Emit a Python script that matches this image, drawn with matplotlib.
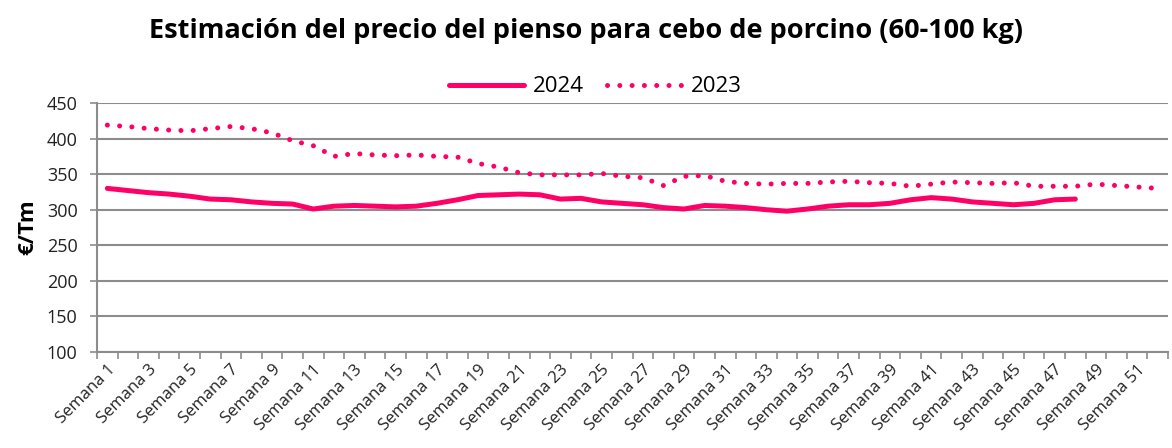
import matplotlib.pyplot as plt
import numpy as np

plt.rcParams['font.family'] = ['Open Sans', 'DejaVu Sans']

# Datos semanales (€/Tm)
semanas = [f'Semana {i}' for i in range(1, 53)]
precio_2024 = [330, 327, 324, 322, 319, 315, 314, 311, 309, 308,
               301, 305, 306, 305, 304, 305, 309, 314, 320, 321,
               322, 321, 315, 316, 311, 309, 307, 303, 301, 306,
               305, 303, 300, 298, 301, 305, 307, 307, 309, 314,
               317, 315, 311, 309, 307, 309, 314, 315]
precio_2023 = [419, 417, 414, 412, 411, 414, 417, 414, 408, 397,
               390, 375, 379, 377, 376, 377, 375, 374, 365, 360,
               352, 349, 349, 349, 351, 347, 345, 334, 347, 348,
               340, 337, 336, 337, 337, 339, 340, 338, 337, 333,
               336, 339, 338, 337, 338, 333, 333, 333, 336, 334,
               332, 330]

color = '#FF0066'
grid_color = '#8C8C8C'

fig = plt.figure(figsize=(11.72, 4.48), dpi=100)
ax = fig.add_axes([0.0828, 0.2143, 0.9138, 0.5557])

x24 = np.arange(len(precio_2024))
x23 = np.arange(len(precio_2023))
ax.plot(x24, precio_2024, color=color, linewidth=3.6, solid_capstyle='round',
        solid_joinstyle='round', label='2024')
ax.plot(x23, precio_2023, color=color, linewidth=3.6, linestyle=(0, (0.01, 2.45)),
        dash_capstyle='round', label='2023')

ax.set_xlim(-0.5, len(semanas) - 0.5)
ax.set_ylim(100, 450)
ax.set_yticks(np.arange(100, 451, 50))
ax.grid(True, axis='y', color=grid_color, linewidth=1.5)
ax.set_axisbelow(True)

ax.set_xticks(np.arange(0, len(semanas), 2))
ax.set_xticklabels(semanas[::2], rotation=45, ha='right', va='top',
                   rotation_mode='anchor', fontsize=12, color='#222222')
ax.set_xticks(np.arange(-0.5, len(semanas), 1), minor=True)
ax.tick_params(axis='x', which='major', length=0, pad=7)
ax.tick_params(axis='x', which='minor', length=5, color=grid_color, width=1.2)
ax.tick_params(axis='y', length=5, color=grid_color, width=1.2, labelsize=13,
               labelcolor='#222222', pad=9)

for s in ['top', 'right']:
    ax.spines[s].set_visible(False)
for s in ['left', 'bottom']:
    ax.spines[s].set_color(grid_color)
    ax.spines[s].set_linewidth(1.5)

ax.set_ylabel('€/Tm', fontsize=16, fontweight='bold', labelpad=6)

fig.suptitle('Estimación del precio del pienso para cebo de porcino (60-100 kg)',
             fontsize=19.5, fontweight='bold', y=0.93, va='center')
ax.legend(loc='center', bbox_to_anchor=(0.508, 0.806), bbox_transform=fig.transFigure,
          ncol=2, frameon=False, fontsize=16, handlelength=3.4, columnspacing=1.0,
          handletextpad=0.4)

fig.savefig('out.png', dpi=100)
